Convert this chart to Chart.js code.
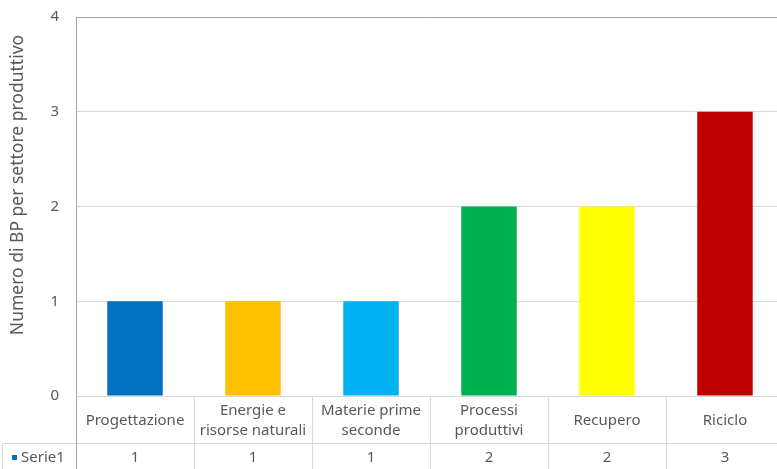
<!DOCTYPE html>
<html>
<head>
<meta charset="utf-8">
<script src="https://cdn.jsdelivr.net/npm/chart.js@4"></script>
<style>
  html, body { margin: 0; padding: 0; background: #fff; overflow: hidden; }
  #wrap { width: 800px; height: 469px; }
</style>
</head>
<body>
<div id="wrap"><canvas id="bpChart"></canvas></div>
<script>
// data
const categories = [
  ["Progettazione"],
  ["Energie e", "risorse naturali"],
  ["Materie prime", "seconde"],
  ["Processi", "produttivi"],
  ["Recupero"],
  ["Riciclo"],
];
const serie1 = [1, 1, 1, 2, 2, 3];
const barColors = ["#0070C0", "#FFC000", "#00B0F0", "#00B050", "#FFFF00", "#C00000"];
const yTicks = [0, 1, 2, 3, 4];
const seriesName = "Serie1";
const yTitle = "Numero di BP per settore produttivo";

const textColor = "#595959";
const fontFamily = "'Noto Sans', 'Open Sans', sans-serif";

// draws the Excel-style data table under the plot, plus the y title
const dataTable = {
  id: "dataTable",
  afterDraw(chart) {
    const c = chart.ctx;
    const area = chart.chartArea;
    const x = chart.scales.x;
    const rowSplit = area.bottom + 47;
    const bottom = chart.height;
    c.save();
    c.strokeStyle = "#d9d9d9";
    c.lineWidth = 1;
    // column separators
    for (let i = 0; i <= categories.length; i++) {
      const px = Math.round(area.left + (area.right - area.left) * i / categories.length) + 0.5;
      c.beginPath();
      c.moveTo(px, area.bottom);
      c.lineTo(px, bottom);
      c.stroke();
    }
    // row line and left border of the series row
    c.beginPath();
    c.moveTo(2, rowSplit + 0.5);
    c.lineTo(chart.width, rowSplit + 0.5);
    c.moveTo(2.5, rowSplit);
    c.lineTo(2.5, bottom);
    c.stroke();
    // plot left border
    c.strokeStyle = "#a6a6a6";
    c.beginPath();
    c.moveTo(area.left + 0.5, area.top);
    c.lineTo(area.left + 0.5, bottom);
    c.stroke();

    c.fillStyle = textColor;
    c.font = "15px " + fontFamily;
    c.textAlign = "center";
    c.textBaseline = "middle";
    const labelMid = area.bottom + 25;
    categories.forEach((lines, i) => {
      const cx = x.getPixelForValue(i);
      const lh = 20;
      lines.forEach((t, j) => {
        c.fillText(t, cx, labelMid + (j - (lines.length - 1) / 2) * lh);
      });
      c.fillText(String(serie1[i]), cx, (rowSplit + bottom) / 2 + 2);
    });
    // legend key + series name
    c.fillStyle = barColors[0];
    c.fillRect(12, (rowSplit + bottom) / 2 - 1, 5, 5);
    c.fillStyle = textColor;
    c.textAlign = "left";
    c.fillText(seriesName, 21, (rowSplit + bottom) / 2 + 2);

    // y axis title
    c.translate(18, 185);
    c.rotate(-Math.PI / 2);
    c.textAlign = "center";
    c.font = "17.5px " + fontFamily;
    c.fillText(yTitle, 0, 0);
    c.restore();
  },
};

const ctx = document.getElementById("bpChart").getContext("2d");
const bpChart = new Chart(ctx, {
  type: "bar",
  data: {
    labels: categories.map((l) => l.join(" ")),
    datasets: [
      {
        label: seriesName,
        data: serie1,
        backgroundColor: barColors,
        barPercentage: 0.47,
        categoryPercentage: 1,
      },
    ],
  },
  options: {
    responsive: true,
    maintainAspectRatio: false,
    animation: false,
    layout: {
      padding: { top: 17, bottom: 73, right: 16, left: 0 },
    },
    plugins: {
      legend: { display: false },
      tooltip: { enabled: false },
    },
    scales: {
      x: {
        display: false,
      },
      y: {
        min: yTicks[0],
        max: yTicks[yTicks.length - 1],
        afterBuildTicks: (s) => {
          s.ticks = yTicks.map((v) => ({ value: v }));
        },
        afterFit: (s) => {
          s.width = 76;
          s.paddingTop = 0;
          s.paddingBottom = 0;
        },
        border: { display: true, color: "#a6a6a6" },
        grid: {
          color: (g) => (g.tick && g.tick.value === 4 ? "#a6a6a6" : "#d9d9d9"),
          drawTicks: false,
        },
        ticks: {
          color: textColor,
          padding: 17,
          font: { family: fontFamily, size: 15 },
        },
      },
    },
  },
  plugins: [dataTable],
});
</script>
</body>
</html>
